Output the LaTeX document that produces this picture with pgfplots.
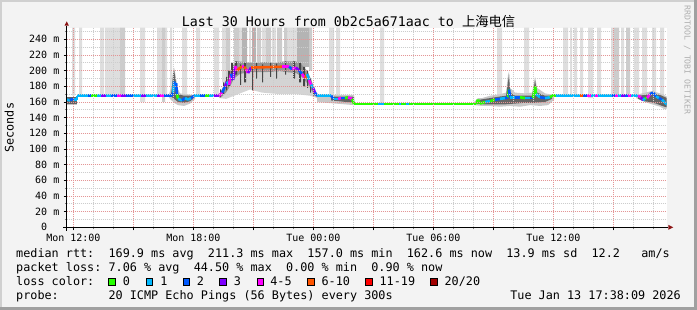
\documentclass[border=0pt]{standalone}
\usepackage{fontspec}
\setmainfont{DejaVu Sans Mono}
\newfontfamily\cjk{Noto Sans CJK SC}
\usepackage{pgfplots}
\usepackage{pgfplotstable}
\pgfplotsset{compat=1.18}
\frenchspacing

\definecolor{bgc}{RGB}{243,243,243}
\definecolor{gridR}{RGB}{228,150,150}
\definecolor{gridG}{RGB}{205,205,205}
\definecolor{barL}{RGB}{222,222,222}
\definecolor{barM}{RGB}{204,204,204}
\definecolor{barD}{RGB}{180,180,180}
\definecolor{smokeL}{RGB}{200,200,200}
\definecolor{smokeB}{RGB}{212,212,212}
\definecolor{smokeM}{RGB}{150,150,150}
\definecolor{smokeD}{RGB}{100,100,100}
\definecolor{streak}{RGB}{70,70,70}
\definecolor{arrowc}{RGB}{140,20,20}
\definecolor{frameL}{RGB}{208,208,208}
\definecolor{frameD}{RGB}{160,160,160}
\definecolor{wm}{RGB}{175,175,175}
\definecolor{l0}{RGB}{38,255,0}
\definecolor{l1}{RGB}{0,184,255}
\definecolor{l2}{RGB}{0,89,255}
\definecolor{l3}{RGB}{126,0,255}
\definecolor{l4}{RGB}{255,0,255}
\definecolor{l5}{RGB}{255,85,0}
\definecolor{l6}{RGB}{255,0,0}
\definecolor{l7}{RGB}{161,0,0}

\pgfplotsset{colormap={loss}{rgb255=(38,255,0) rgb255=(0,184,255) rgb255=(0,89,255) rgb255=(126,0,255) rgb255=(255,0,255) rgb255=(255,85,0) rgb255=(255,0,0) rgb255=(161,0,0)}}

% median rtt (hours since Mon 00:00, ms, loss class of the following segment)
\pgfplotstableread{
x y c
11.685 163 1
11.835 162 2
11.935 164 2
12.035 163 1
12.185 163 1
12.185 168 1
12.735 168 2
12.885 168 0
13.185 168 1
13.385 168 3
13.635 168 1
13.885 168 2
14.185 168 4
14.385 168 3
14.635 168 2
14.985 168 1
15.385 168 3
15.635 168 1
16.185 168 3
16.335 168 4
16.535 168 2
16.935 168 2
16.985 172 1
17.035 186 2
17.085 178 1
17.135 184 2
17.185 170 0
17.235 164 1
17.435 162 2
17.585 165 1
17.735 163 1
17.885 165 2
18.035 168 1
18.335 168 2
18.585 168 0
18.785 168 1
19.035 168 3
19.285 168 4
19.435 172 2
19.585 180 3
19.685 186 1
19.785 182 4
19.885 196 2
19.985 188 3
20.085 206 4
20.185 200 5
20.335 204 5
20.435 205 4
20.535 205 5
20.635 202 4
20.735 197 3
20.885 204 5
22.435 205 4
22.785 205 2
22.935 202 4
23.135 204 3
23.285 200 2
23.435 196 4
23.585 190 5
23.685 196 1
23.785 188 4
23.885 182 1
23.985 178 3
24.085 172 2
24.185 168 1
24.885 168 2
25.035 164 1
25.235 164 4
25.385 165 2
25.585 165 0
25.735 166 4
25.935 164 0
26.035 157.5 0
27.235 157.5 1
27.535 157.5 0
28.285 157.5 1
28.385 157.5 0
28.635 157.5 1
28.785 157.5 0
32.135 157.5 0
32.235 163 0
32.335 158 0
32.585 160 1
32.835 161 0
33.085 163 2
33.335 164 1
33.585 165 2
33.735 166 0
33.785 176 2
33.835 166 1
34.085 166 2
34.335 166 0
34.585 165 1
34.835 165 2
34.985 165 0
35.085 180 0
35.135 170 1
35.335 166 2
35.585 165 1
35.835 166 0
35.935 168 0
36.135 168 1
37.335 168 5
37.485 168 2
37.685 168 4
37.885 168 1
38.085 168 4
38.235 168 1
38.935 168 2
39.085 168 4
39.235 168 1
39.385 168 3
39.585 168 2
39.735 168 4
39.885 168 1
40.235 168 4
40.385 166 3
40.485 162 1
40.585 165 0
40.685 165 4
40.835 170 2
40.985 172 2
41.135 167 1
41.285 165 2
41.435 163 1
41.535 160 1
41.685 157 1
}\median

\begin{document}
\begin{tikzpicture}[x=1pt,y=1pt]
\useasboundingbox (0,0) rectangle (697,310);
\fill[bgc] (0,0) rectangle (697,310);
\draw[frameL, line width=2pt] (1,0) -- (1,309) -- (697,309);
\draw[frameD, line width=3pt] (0,1.5) -- (695.5,1.5) -- (695.5,310);

\begin{axis}[
  at={(66.7pt,82.7pt)}, anchor=south west,
  scale only axis, width=600pt, height=199.3pt,
  xmin=11.6667, xmax=41.6667, ymin=0, ymax=254.5,
  axis background/.style={fill=white},
  axis line style={draw=none},
  axis on top,
  unbounded coords=jump,
  xtick={12,15,...,39},
  xticklabels={Mon 12:00,,Mon 18:00,,Tue 00:00,,Tue 06:00,,Tue 12:00,},
  minor xtick={13,14,16,17,19,20,22,23,25,26,28,29,31,32,34,35,37,38,40,41},
  ytick={0,20,...,240},
  yticklabels={0\hphantom{xx},20 m,40 m,60 m,80 m,100 m,120 m,140 m,160 m,180 m,200 m,220 m,240 m},
  minor ytick={10,30,...,250},
  grid=both,
  major grid style={draw=gridR, line width=0.9pt, dash pattern=on 1pt off 1pt},
  minor grid style={draw=gridG, line width=0.9pt, dash pattern=on 1pt off 1pt},
  tick pos=left, tick align=outside,
  major tick length=3pt, minor tick length=2pt,
  major tick style={draw=black, line width=0.8pt},
  minor tick style={draw=gray, line width=0.8pt},
  tick label style={font=\fontsize{10}{10}\selectfont, inner sep=0pt},
  yticklabel style={anchor=east, xshift=-4.2pt},
  xticklabel style={anchor=north, yshift=-3.9pt},
]
% tall light smoke bars
\addplot[fill=barL, draw=none] coordinates {
 (11.935,168)(11.935,255)(12.085,255)(12.085,168) (12.085,nan)
 (12.285,168)(12.285,255)(12.435,255)(12.435,168) (12.435,nan)
 (13.335,168)(13.335,255)(13.535,255)(13.535,168) (13.535,nan)
 (13.585,168)(13.585,255)(14.335,255)(14.335,168) (14.335,nan)
 (15.335,160)(15.335,255)(15.585,255)(15.585,160) (15.585,nan)
 (16.185,168)(16.185,255)(16.435,255)(16.435,168) (16.435,nan)
 (16.585,168)(16.585,255)(16.685,255)(16.685,168) (16.685,nan)
 (16.835,175)(16.835,255)(16.935,255)(16.935,175) (16.935,nan)
 (17.435,170)(17.435,255)(17.685,255)(17.685,170) (17.685,nan)
 (18.135,168)(18.135,255)(18.335,255)(18.335,168) (18.335,nan)
 (19.035,168)(19.035,255)(19.285,255)(19.285,168) (19.285,nan)
 (19.435,185)(19.435,255)(19.635,255)(19.635,185) (19.635,nan)
 (20.285,205)(20.285,255)(20.435,255)(20.435,205) (20.435,nan)
 (20.785,205)(20.785,255)(20.885,255)(20.885,205) (20.885,nan)
 (21.435,205)(21.435,255)(21.635,255)(21.635,205) (21.635,nan)
 (21.935,205)(21.935,255)(22.135,255)(22.135,205) (22.135,nan)
 (22.685,205)(22.685,255)(23.185,255)(23.185,205) (23.185,nan)
 (24.785,168)(24.785,255)(25.035,255)(25.035,168) (25.035,nan)
 (25.135,168)(25.135,255)(25.335,255)(25.335,168) (25.335,nan)
 (27.335,157.5)(27.335,255)(27.535,255)(27.535,157.5) (27.535,nan)
 (33.185,168)(33.185,255)(33.435,255)(33.435,168) (33.435,nan)
 (34.535,168)(34.535,255)(34.785,255)(34.785,168) (34.785,nan)
 (36.485,168)(36.485,255)(36.735,255)(36.735,168) (36.735,nan)
 (36.835,168)(36.835,255)(36.935,255)(36.935,168) (36.935,nan)
 (37.035,168)(37.035,255)(37.185,255)(37.185,168) (37.185,nan)
 (37.335,168)(37.335,255)(37.485,255)(37.485,168) (37.485,nan)
 (37.735,165)(37.735,255)(37.985,255)(37.985,165) (37.985,nan)
 (38.185,168)(38.185,255)(38.385,255)(38.385,168) (38.385,nan)
 (38.885,168)(38.885,255)(39.035,255)(39.035,168) (39.035,nan)
 (39.385,168)(39.385,255)(39.535,255)(39.535,168) (39.535,nan)
 (40.035,168)(40.035,255)(40.285,255)(40.285,168) (40.285,nan)
 (40.435,165)(40.435,255)(40.685,255)(40.685,165) (40.685,nan)
 (40.935,168)(40.935,255)(41.135,255)(41.135,168) (41.135,nan)
 (41.335,165)(41.335,255)(41.535,255)(41.535,165)
};
\addplot[fill=barM, draw=none] coordinates {
 (14.335,168)(14.335,255)(14.585,255)(14.585,168) (14.585,nan)
 (16.435,160)(16.435,255)(16.585,255)(16.585,160) (16.585,nan)
 (19.635,190)(19.635,255)(19.835,255)(19.835,190) (19.835,nan)
 (20.035,205)(20.035,255)(20.285,255)(20.285,205) (20.285,nan)
 (21.185,205)(21.185,255)(21.385,255)(21.385,205) (21.385,nan)
 (21.635,205)(21.635,255)(21.885,255)(21.885,205) (21.885,nan)
 (22.185,205)(22.185,255)(22.435,255)(22.435,205) (22.435,nan)
 (22.535,205)(22.535,255)(22.685,255)(22.685,205) (22.685,nan)
 (23.785,200)(23.785,255)(23.935,255)(23.935,200) (23.935,nan)
 (39.035,168)(39.035,255)(39.285,255)(39.285,168) (39.285,nan)
 (39.635,168)(39.635,255)(39.835,255)(39.835,168)
};
\addplot[fill=barD, draw=none] coordinates {
 (20.435,205)(20.435,255)(20.685,255)(20.685,205) (20.685,nan)
 (20.935,205)(20.935,255)(21.135,255)(21.135,205) (21.135,nan)
 (23.185,205)(23.185,255)(23.785,255)(23.785,205)
};
% light smoke
\addplot[fill=smokeL, draw=none] coordinates {(11.685,167)(12.185,167)(12.185,156)(11.685,156)} -- cycle;
\addplot[fill=smokeL, draw=none] coordinates {
 (16.785,170)(16.935,182)(16.985,200)(17.035,204)(17.085,198)(17.135,190)(17.235,176)(17.335,171)(17.635,170)(17.935,169)(18.085,169)
 (18.085,164)(17.835,158)(17.535,155)(17.235,156)(17.035,159)(16.835,164)(16.785,166)} -- cycle;
\addplot[fill=smokeB, draw=none] coordinates {
 (19.285,168)(19.835,185)(20.135,198)(23.335,198)(23.735,190)(24.085,172)(24.185,168)
 (24.185,165)(23.835,168)(23.185,170)(22.335,170)(21.435,172)(20.835,176)(20.235,170)(19.635,164)(19.285,165)} -- cycle;
\addplot[fill=smokeL, draw=none] coordinates {(24.185,169)(26.035,169)(26.035,156)(24.185,160)} -- cycle;
\addplot[fill=smokeL, draw=none] coordinates {
 (32.035,160)(32.235,165)(32.435,165)(32.835,168)(33.335,170)(33.635,172)(33.735,195)(33.785,199)(33.835,178)(34.085,172)(34.585,171)(34.935,172)(35.035,186)(35.085,192)(35.185,178)(35.585,171)(36.035,169)
 (36.035,163)(35.735,156)(35.335,155)(34.835,156)(34.335,154)(33.835,155)(33.335,154)(32.835,155)(32.435,155)(32.035,156)} -- cycle;
\addplot[fill=smokeL, draw=none] coordinates {
 (40.135,169)(40.585,172)(40.935,174)(41.335,171)(41.685,167)
 (41.685,151)(41.535,151)(41.335,154)(40.935,157)(40.585,160)(40.135,165)} -- cycle;
% mid smoke around the elevated median
\addplot[fill=smokeM, draw=none] coordinates {
 (19.285,170)(19.435,176)(19.585,186)(19.735,192)(19.885,202)(20.035,209)(20.185,212)(20.585,211)(21.085,210)(21.585,211)(22.085,210)(22.585,212)(23.085,212)(23.335,210)(23.535,204)(23.685,200)(23.835,192)(23.985,182)(24.085,174)(24.185,169)
 (24.185,166)(24.035,169)(23.885,176)(23.685,184)(23.435,192)(23.135,197)(22.335,199)(21.435,198)(20.835,198)(20.335,196)(20.035,190)(19.835,180)(19.635,172)(19.435,167)(19.285,166)} -- cycle;
% dark smoke
\addplot[fill=smokeD, draw=none] coordinates {(11.685,166)(12.185,166)(12.185,158)(11.685,158)} -- cycle;
\addplot[fill=smokeD, draw=none] coordinates {
 (16.885,170)(16.935,180)(16.985,196)(17.035,201)(17.085,193)(17.135,184)(17.235,170)(17.535,168)(17.935,168)(18.035,168)
 (18.035,165)(17.835,161)(17.535,159)(17.235,160)(17.085,163)(16.935,166)(16.885,167)} -- cycle;
\addplot[fill=smokeD, draw=none] coordinates {(24.885,167)(26.035,167)(26.035,159)(24.885,162)} -- cycle;
\addplot[fill=smokeD, draw=none] coordinates {
 (32.135,161)(32.335,163)(32.835,165)(33.335,167)(33.635,168)(33.735,186)(33.785,195)(33.835,172)(34.085,168)(34.585,168)(34.935,168)(35.035,180)(35.085,188)(35.185,172)(35.585,168)(35.935,168)
 (35.935,164)(35.585,160)(35.085,159)(34.585,159)(34.085,158)(33.585,157)(33.085,157)(32.585,157)(32.235,157.5)(32.135,157.5)} -- cycle;
\addplot[fill=smokeD, draw=none] coordinates {
 (40.235,168)(40.585,169)(40.935,171)(41.335,169)(41.685,165)
 (41.685,153)(41.435,155)(41.135,158)(40.835,160)(40.535,161)(40.235,164)} -- cycle;
% dark streaks in the elevated period
\addplot[fill=streak, draw=none] coordinates {
 (19.335,166)(19.335,176)(19.385,176)(19.385,166) (19.385,nan)
 (19.485,170)(19.485,185)(19.535,185)(19.535,170) (19.535,nan)
 (19.635,175)(19.635,192)(19.685,192)(19.685,175) (19.685,nan)
 (19.735,180)(19.735,200)(19.835,200)(19.835,180) (19.835,nan)
 (19.885,188)(19.885,210)(19.985,210)(19.985,188) (19.985,nan)
 (20.085,195)(20.085,212)(20.185,212)(20.185,195) (20.185,nan)
 (20.335,182)(20.335,208)(20.385,208)(20.385,182) (20.385,nan)
 (20.535,185)(20.535,210)(20.635,210)(20.635,185) (20.635,nan)
 (20.935,175)(20.935,205)(20.985,205)(20.985,175) (20.985,nan)
 (21.135,190)(21.135,210)(21.185,210)(21.185,190) (21.185,nan)
 (21.435,185)(21.435,208)(21.485,208)(21.485,185) (21.485,nan)
 (21.835,192)(21.835,210)(21.885,210)(21.885,192) (21.885,nan)
 (22.135,190)(22.135,209)(22.185,209)(22.185,190) (22.185,nan)
 (22.585,195)(22.585,212)(22.635,212)(22.635,195) (22.635,nan)
 (22.985,190)(22.985,212)(23.085,212)(23.085,190) (23.085,nan)
 (23.285,185)(23.285,210)(23.385,210)(23.385,185) (23.385,nan)
 (23.485,180)(23.485,205)(23.585,205)(23.585,180) (23.585,nan)
 (23.685,178)(23.685,200)(23.735,200)(23.735,178) (23.735,nan)
 (23.835,172)(23.835,190)(23.885,190)(23.885,172) (23.885,nan)
 (23.985,168)(23.985,180)(24.035,180)(24.035,168)
};
% median coloured by loss
\addplot[mesh, shader=flat corner, colormap name=loss, colormap access=direct,
  point meta=explicit, line width=2.6pt] table[x=x, y=y, meta=c] {\median};
\end{axis}

% axis lines and arrows
\draw[black, line width=1pt] (63.3,82.7) -- (668.3,82.7);
\draw[black, line width=1pt] (66.7,79) -- (66.7,284.3);
\fill[arrowc] (668.3,85.2) -- (673.3,82.7) -- (668.3,80.2) -- cycle;
\fill[arrowc] (64.5,284.3) -- (66.7,288.6) -- (68.9,284.3) -- cycle;

% title, axis label, watermark
\node[anchor=base, inner sep=0pt, font=\fontsize{13.3}{15}\selectfont] at (348.5,283.3)
  {Last 30 Hours from 0b2c5a671aac to {\cjk 上海电信}};
\node[rotate=90, anchor=base, inner sep=0pt, font=\fontsize{11.8}{12}\selectfont] at (13.5,182.3) {Seconds};
\node[rotate=-90, anchor=base, inner sep=0pt, text=wm, font=\fontsize{8.2}{9}\selectfont] at (684.5,250) {RRDTOOL / TOBI OETIKER};

% legend
\begin{scope}[every node/.style={anchor=base west, inner sep=0pt, font=\fontsize{11.8}{14}\selectfont}]
\node at (16,52.3) {median rtt:~~169.9~ms~avg~~211.3~ms~max~~157.0~ms~min~~162.6~ms~now~~13.9~ms~sd~~12.2~~~am/s};
\node at (16,38.3) {packet loss:~7.06~\%~avg~~44.50~\%~max~~0.00~\%~min~~0.90~\%~now};
\node at (16,24.3) {loss color:};
\node at (122.7,24.3) {0};
\node at (160.1,24.3) {1};
\node at (196.7,24.3) {2};
\node at (233.7,24.3) {3};
\node at (270.1,24.3) {4-5};
\node at (321.4,24.3) {6-10};
\node at (379.4,24.3) {11-19};
\node at (444.4,24.3) {20/20};
\node at (16,10.3) {probe:~~~~~~~20~ICMP~Echo~Pings~(56~Bytes)~every~300s};
\node[anchor=base east] at (681,10.3) {Tue Jan 13 17:38:09 2026};
\end{scope}
\foreach \xx/\cc in {108.3/l0,145.7/l1,182.7/l2,219.3/l3,256.7/l4,307.3/l5,365/l6,430/l7}{
  \filldraw[fill=\cc, draw=black, line width=0.8pt] (\xx+0.4,24.6) rectangle (\xx+7.0,31.6);
}
\end{tikzpicture}
\end{document}
